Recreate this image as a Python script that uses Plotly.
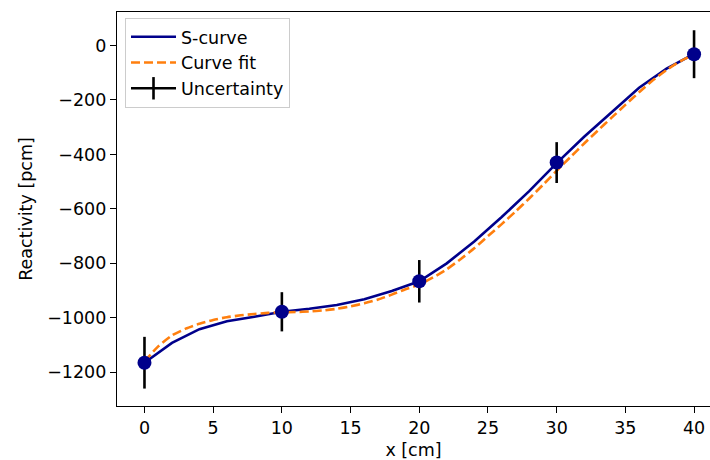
import plotly.graph_objects as go

# S-curve (sampled every 2 cm)
s_x = [0, 2, 4, 6, 8, 10, 12, 14, 16, 18, 20, 22, 24, 26, 28, 30, 32, 34, 36, 38, 40]
s_y = [-1165, -1092, -1042, -1013, -996, -978, -967, -953, -932, -902, -866,
       -800, -720, -630, -535, -432, -335, -245, -155, -85, -31]

# Curve fit
fit_x = [0, 1, 2, 3, 4, 5, 6, 7, 8, 9, 10, 11, 12, 13, 14, 15, 16, 17, 18, 19, 20,
         21, 22, 23, 24, 25, 26, 27, 28, 29, 30, 31, 32, 33, 34, 35, 36, 37, 38, 39, 40]
fit_y = [-1160, -1105, -1065, -1040, -1022, -1008, -998, -991, -986, -982, -980,
         -979, -977, -973, -967, -958, -947, -933, -915, -895, -878,
         -852, -822, -785, -745, -700, -656, -610, -562, -512, -460,
         -410, -360, -312, -265, -218, -172, -128, -90, -58, -33]

# Measured points with uncertainty
m_x = [0, 10, 20, 30, 40]
m_y = [-1165, -978, -866, -430, -32]
m_err = [95, 72, 78, 75, 88]

FONT = "DejaVu Sans"
FS = 17.5

fig = go.Figure()
fig.add_trace(go.Scatter(x=s_x, y=s_y, mode="lines", name="S-curve",
                         line=dict(color="#00008b", width=2.6)))
fig.add_trace(go.Scatter(x=fit_x, y=fit_y, mode="lines", name="Curve fit",
                         line=dict(color="#ff7f0e", width=2.6, dash="9px,4px", shape="spline",
                                   smoothing=0.6)))
fig.add_trace(go.Scatter(x=m_x, y=m_y, mode="markers", showlegend=False,
                         marker=dict(size=1, color="rgba(0,0,0,0)"),
                         error_y=dict(type="data", array=m_err, visible=True,
                                      color="black", thickness=2.6, width=0)))
fig.add_trace(go.Scatter(x=[None], y=[None], mode="lines+markers", name="Uncertainty",
                         line=dict(color="black", width=2.6),
                         marker=dict(symbol="line-ns-open", size=20,
                                     line=dict(color="black", width=2.6))))
fig.add_trace(go.Scatter(x=m_x, y=m_y, mode="markers", showlegend=False,
                         marker=dict(size=14, color="#00008b")))

fig.update_layout(
    width=710, height=460,
    margin=dict(l=117, r=0, t=12, b=54),
    paper_bgcolor="white", plot_bgcolor="white",
    font=dict(family=FONT, size=FS, color="black"),
    showlegend=True,
    legend=dict(x=0.0135, y=0.985, xanchor="left", yanchor="top",
                bgcolor="white", bordercolor="#cccccc", borderwidth=1,
                font=dict(family=FONT, size=FS, color="black"),
                itemwidth=45, tracegroupgap=0),
    xaxis=dict(range=[-2, 41.16], tickmode="array",
               tickvals=[0, 5, 10, 15, 20, 25, 30, 35, 40],
               showgrid=False, zeroline=False, showline=True, linecolor="black",
               linewidth=1.2, mirror=True, ticks="outside", ticklen=6, tickwidth=1.2,
               tickcolor="black",
               title=dict(text="x [cm]", standoff=6, font=dict(family=FONT, size=FS))),
    yaxis=dict(range=[-1324, 123], tickmode="array",
               tickvals=[0, -200, -400, -600, -800, -1000, -1200],
               showgrid=False, zeroline=False, showline=True, linecolor="black",
               linewidth=1.2, mirror=False, ticks="outside", ticklen=6, tickwidth=1.2,
               tickcolor="black",
               title=dict(text="Reactivity [pcm]", standoff=10, font=dict(family=FONT, size=FS))),
)

fig.write_html("out.html")
